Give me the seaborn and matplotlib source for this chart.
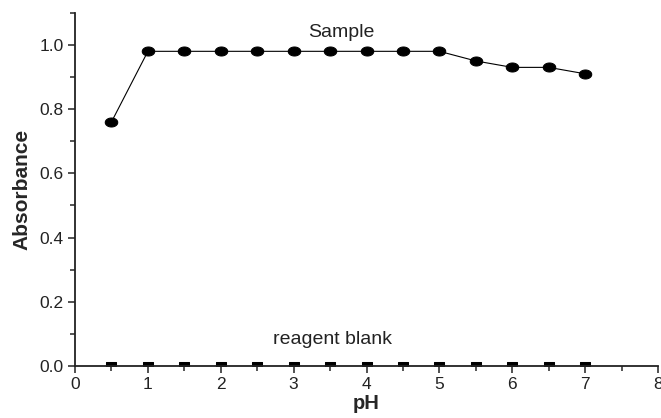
import matplotlib
matplotlib.use("Agg")
import matplotlib.pyplot as plt
import seaborn as sns
import pandas as pd
import numpy as np
from matplotlib.ticker import MultipleLocator
from matplotlib.path import Path

sns.set_style("ticks")
plt.rcParams['font.family'] = ['Liberation Sans', 'DejaVu Sans']

ph = [0.5, 1.0, 1.5, 2.0, 2.5, 3.0, 3.5, 4.0, 4.5, 5.0, 5.5, 6.0, 6.5, 7.0]
sample = [0.76, 0.98, 0.98, 0.98, 0.98, 0.98, 0.98, 0.98, 0.98, 0.98, 0.95, 0.93, 0.93, 0.91]
blank = [0.0] * 14

df_s = pd.DataFrame({"pH": ph, "Absorbance": sample})
df_b = pd.DataFrame({"pH": ph, "Absorbance": blank})

# ellipse marker (wider than tall)
t = np.linspace(0, 2 * np.pi, 60)
ellipse = Path(np.column_stack([np.cos(t), 0.72 * np.sin(t)]))
rect = Path([(-1, -0.7), (1, -0.7), (1, 0.7), (-1, 0.7), (-1, -0.7)],
            [Path.MOVETO, Path.LINETO, Path.LINETO, Path.LINETO, Path.CLOSEPOLY])

fig = plt.figure(figsize=(6.61, 4.18), dpi=100)
ax = fig.add_axes([0.1135, 0.1244, 0.882, 0.845])

sns.lineplot(data=df_s, x="pH", y="Absorbance", ax=ax, color="black", lw=0.8,
             marker=ellipse, markersize=9, markeredgecolor="black", markerfacecolor="black")
sns.lineplot(data=df_b, x="pH", y="Absorbance", ax=ax, color="black", lw=0.8,
             marker=rect, markersize=7.5, markeredgecolor="black", markerfacecolor="black")

ax.set_xlim(0, 8)
ax.set_ylim(0, 1.1)
ax.xaxis.set_major_locator(MultipleLocator(1))
ax.xaxis.set_minor_locator(MultipleLocator(0.5))
ax.yaxis.set_minor_locator(MultipleLocator(0.1))
ax.set_yticks([0.0, 0.2, 0.4, 0.6, 0.8, 1.0])
ax.set_yticklabels(["0.0", "0.2", "0.4", "0.6", "0.8", "1.0"])
ax.tick_params(axis="both", which="major", direction="out", length=5, width=1.1, labelsize=12.5,
               colors="#222222", pad=3)
ax.tick_params(axis="both", which="minor", direction="out", length=3.5, width=1.1)
for s in ["top", "right"]:
    ax.spines[s].set_visible(False)
for s in ["left", "bottom"]:
    ax.spines[s].set_linewidth(1.3)
    ax.spines[s].set_color("#222222")

ax.set_xlabel("pH", fontsize=14.5, fontweight="bold", labelpad=1)
ax.set_ylabel("Absorbance", fontsize=15, fontweight="bold", labelpad=6)

ax.text(3.66, 1.025, "Sample", ha="center", va="baseline", fontsize=14, color="#222222")
ax.text(3.53, 0.068, "reagent blank", ha="center", va="baseline", fontsize=14, color="#222222")

fig.savefig("out.png", dpi=100)
